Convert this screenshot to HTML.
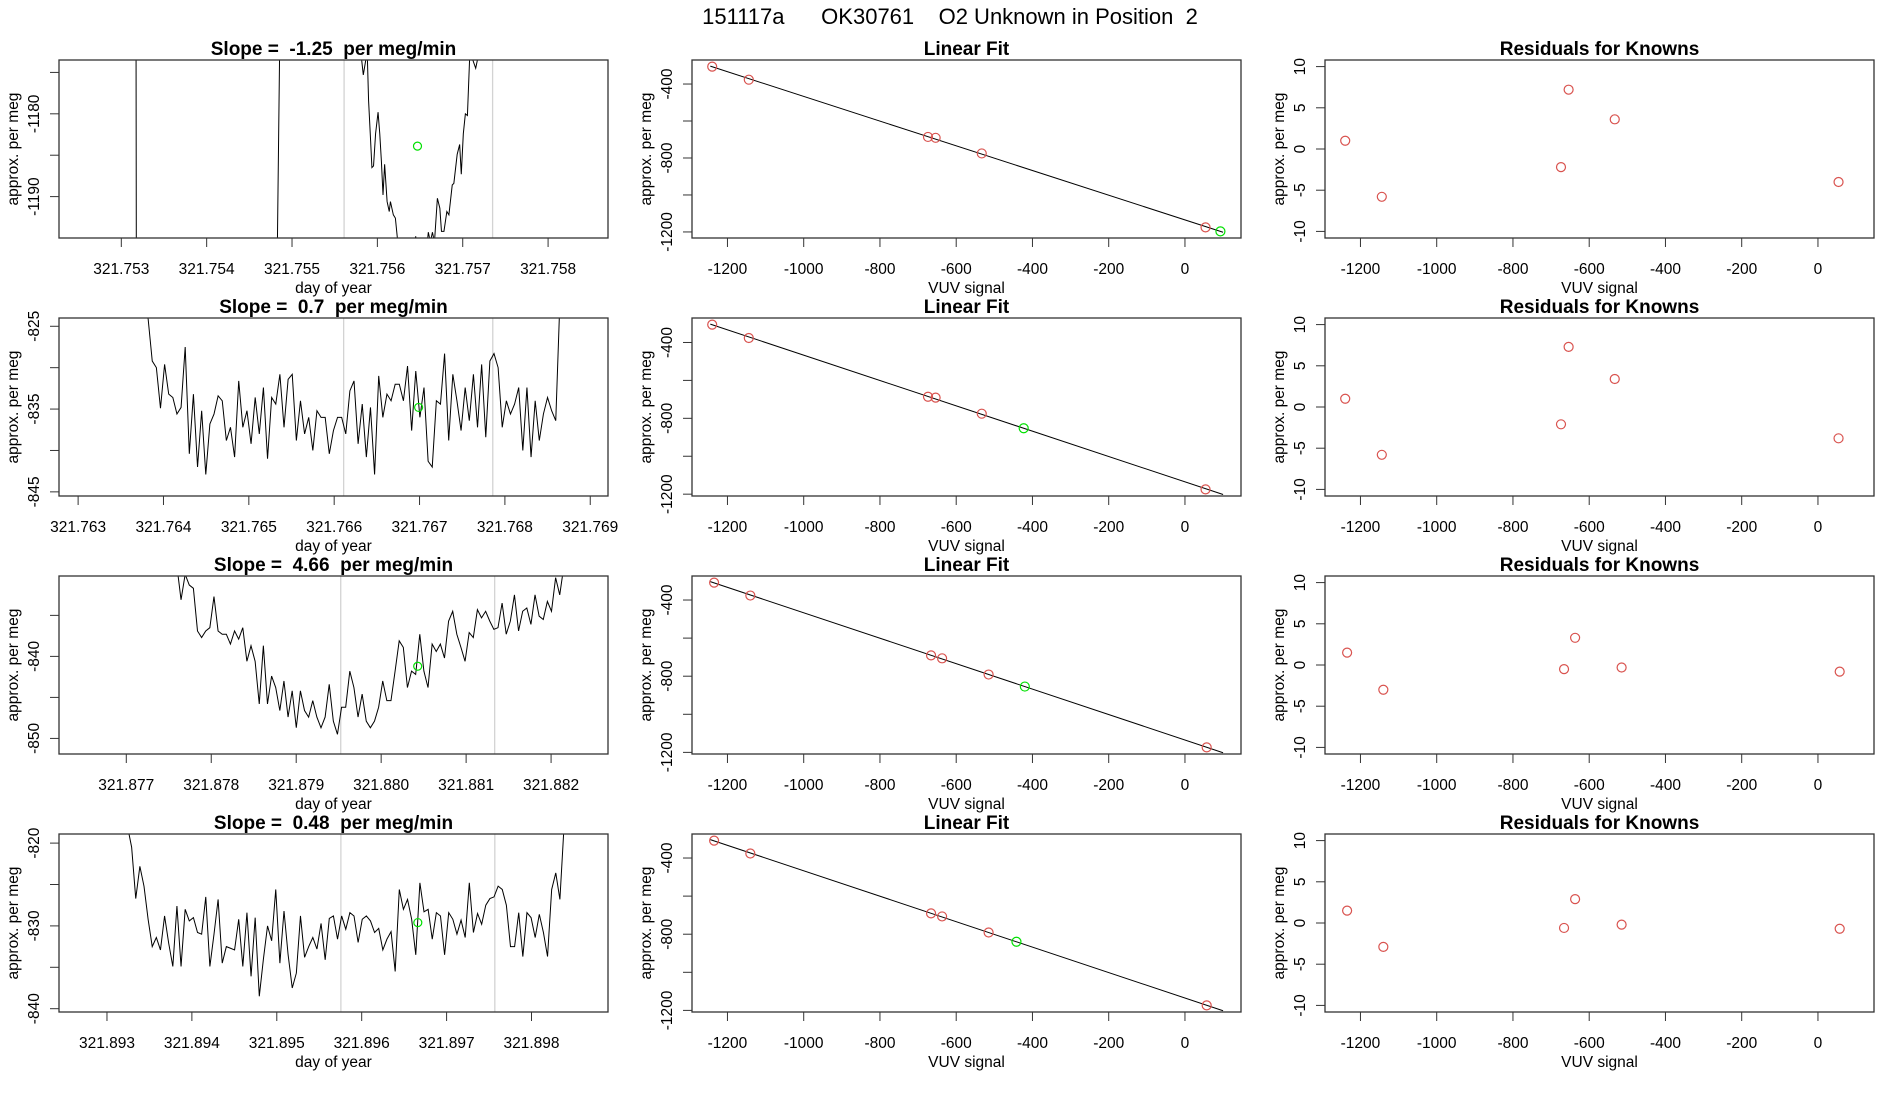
<!DOCTYPE html>
<html><head><meta charset="utf-8">
<style>
html,body{margin:0;padding:0;background:#fff;}
svg{display:block;font-family:"Liberation Sans",Arial,sans-serif;}
svg text{white-space:pre;}
</style></head>
<body>
<svg id="fig" width="1900" height="1100" viewBox="0 0 1900 1100" xmlns="http://www.w3.org/2000/svg">
<rect width="1900" height="1100" fill="#fff"/>
<text x="950" y="24" text-anchor="middle" font-size="22" fill="#000" xml:space="preserve">151117a      OK30761    O2 Unknown in Position  2</text>
</svg>
<script>
// ---------- time series data (column 1) ----------
const ts1T = [321.7520,321.75317,321.75318,321.75479,321.75488,321.755800,321.755815,321.755835,321.755864,321.755883,321.755897,321.755921,321.755936,321.755955,321.755979,321.756008,321.756028,321.756047,321.756066,321.756085,321.756114,321.756139,321.756153,321.756187,321.756211,321.756240,321.756300,321.756400,321.756449,321.756480,321.756560,321.756597,321.756621,321.756645,321.756669,321.756703,321.756732,321.756751,321.756780,321.756814,321.756838,321.756877,321.756896,321.756935,321.756964,321.756983,321.757007,321.757031,321.757055,321.757080,321.757118,321.757152,321.757176,321.757200,321.7580];
const ts1V = [-1150,-1150,-1230,-1230,-1150,-1165,-1173.4,-1175.3,-1173.5,-1173.3,-1178.4,-1183.3,-1186.5,-1186.3,-1182.4,-1179.8,-1182.4,-1185.7,-1189.8,-1186.1,-1190.6,-1191.8,-1190.6,-1192.2,-1192.6,-1195.6,-1198,-1197,-1194.8,-1197,-1198,-1194.3,-1195.5,-1194.3,-1195.5,-1190.2,-1191.4,-1194.2,-1194.2,-1191.8,-1192.2,-1188.6,-1188.4,-1184.9,-1183.7,-1187.3,-1182.4,-1180,-1180.2,-1173.5,-1173.5,-1174.5,-1173.3,-1160,-1150];

const ts2Start = 321.763772, ts2Step = 0.00004824;
const ts2V = [-823.1,-824.1,-829.2,-830,-834.9,-829.6,-833.2,-833.6,-835.6,-834.8,-827.5,-840.4,-833.2,-842,-835.2,-842.9,-836.8,-835.6,-833.4,-834,-838.8,-837.2,-840.8,-831.6,-837.2,-835.2,-839.2,-833.6,-838,-832.4,-841,-833.6,-834.4,-830.8,-837.2,-831.4,-830.8,-838.8,-834,-838,-836,-840,-835.2,-836,-836,-840.4,-837.6,-836,-836,-838,-832.8,-831.6,-839.2,-834.4,-840.8,-834.8,-842.9,-831,-836,-833.2,-834,-832,-832,-834,-829.8,-837.6,-830.4,-836,-832.4,-841.3,-842,-834,-834.4,-828.3,-838.8,-830.8,-834,-837.6,-832.4,-836.4,-830.8,-837.2,-829.6,-838.4,-829.2,-828.3,-830,-837.2,-834,-835.6,-834.4,-832.4,-840,-832.4,-840.8,-834,-838.8,-835.6,-833.6,-835.2,-836.4,-822];

const ts3Start = 321.877596, ts3Step = 0.00004845;
const ts3V = [-829,-833.1,-830,-831.3,-831.7,-836.9,-837.7,-836.9,-836.5,-832.7,-836.9,-837.3,-837.3,-838.5,-836.9,-837.9,-836.5,-840.6,-838.7,-840.6,-845.8,-838.7,-845.8,-842.4,-843.8,-846.6,-843,-847.4,-844.2,-848.7,-844.2,-846.6,-847.4,-845.4,-847.4,-848.7,-847.4,-843.4,-847.9,-849.5,-846.2,-846.2,-841.8,-843.8,-847.4,-844.6,-847.9,-848.7,-847.9,-846.2,-843,-845.4,-845.4,-841.8,-838.1,-838.9,-843.8,-841.8,-842.2,-837.3,-841.8,-843.8,-838.5,-839.4,-838.5,-840.2,-835.7,-834.5,-837.3,-838.9,-840.6,-837.1,-837.7,-834.3,-835.3,-834.5,-835.7,-836.7,-836.5,-833.5,-837.3,-835.7,-832.5,-836.9,-834.5,-834.1,-836.1,-832.5,-835.1,-835.5,-833.3,-834.5,-830.4,-832.5,-829];

const ts4Start = 321.893242, ts4Step = 0.0000485;
const ts4V = [-818,-820.5,-826.7,-822.8,-825.2,-829.2,-832.5,-831.4,-832.9,-828.8,-832.1,-834.9,-827.6,-834.9,-828,-829.4,-829,-830.8,-831,-826.5,-834.9,-831,-826.8,-834.5,-832.5,-832.7,-832.9,-829.2,-834.9,-828.4,-836.1,-829,-838.5,-834,-830,-831.8,-825.6,-834.5,-828.2,-833.5,-837.5,-835.7,-828.8,-833.8,-832.5,-831.4,-832.8,-829.7,-834.1,-829.1,-828.8,-831.6,-828.8,-830.4,-828.4,-828.8,-832,-829.2,-828.8,-829.4,-830.8,-830.3,-832.9,-831.6,-830.7,-835.5,-825.6,-828,-826.8,-829.2,-833.5,-824.8,-828.3,-828,-831.6,-828.4,-828.8,-833.5,-828.4,-829.2,-831,-829.3,-831.4,-824.8,-830.8,-828.5,-829.8,-827.5,-826.7,-826.5,-825.2,-825.6,-827.5,-832.5,-832.5,-828.4,-833.7,-828.4,-829,-831.4,-828.6,-830.8,-833.7,-825.6,-823.6,-826.8,-818];

// unknown (green) point and window markers per row
const unkT = [321.75647, 321.766989, 321.880430, 321.896661];
const unkV = [-1183.9, -834.8, -841.2, -829.6];
const winStart = [321.75561, 321.766111, 321.879524, 321.895755];
const winEnd = [321.75735, 321.767858, 321.881336, 321.897568];
const slopeLabels = ["-1.25", "0.7", "4.66", "0.48"];

// time axis settings
const tsXlim = [[321.752270,321.758702],[321.762776,321.769208],[321.876208,321.882670],[321.892435,321.898901]];
const tsYlim = [[-1195,-1173.5],[-845.5,-824],[-851.9,-830.2],[-840.4,-818.9]];
const tsXTicks = [[321.753,321.754,321.755,321.756,321.757,321.758],[321.763,321.764,321.765,321.766,321.767,321.768,321.769],[321.877,321.878,321.879,321.880,321.881,321.882],[321.893,321.894,321.895,321.896,321.897,321.898]];
const tsYTicks = [[-1175,-1180,-1185,-1190],[-825,-830,-835,-840,-845],[-835,-840,-845,-850],[-820,-825,-830,-835,-840]];
const tsYLabels = [[-1180,-1190],[-825,-835,-845],[-840,-850],[-820,-830,-840]];

// ---------- calibration data (columns 2,3) ----------
const knownX = [[-1240,-1144,-674,-654,-533,54],[-1240,-1144,-674,-654,-533,54],[-1235,-1140,-666,-637,-515,57],[-1235,-1140,-666,-637,-515,57]];
const knownY = [[-305.7,-376.6,-686.2,-690.9,-775.4,-1175.1],[-305.7,-376.6,-686.1,-690.8,-775.6,-1174.9],[-308.5,-376.5,-690.6,-706.2,-791.3,-1173.9],[-308.5,-376.4,-690.7,-706.6,-791.2,-1173.8]];
const residuals = [[1,-5.8,-2.2,7.2,3.6,-4],[1,-5.8,-2.1,7.3,3.4,-3.8],[1.5,-3,-0.5,3.3,-0.3,-0.8],[1.5,-2.9,-0.6,2.9,-0.2,-0.7]];
const unkX = [93, -423, -420, -442];
const unkY = [-1197.1, -852.4, -854.4, -839.7];
const fitSlope = [-0.668, -0.668, -0.668, -0.668];
const fitIntercept = [-1135, -1135, -1135, -1135];
const fitXRange = [-1245, 100];
const calXlim = [-1293, 147];
const calXTicks = [-1200,-1000,-800,-600,-400,-200,0];
const calYTicks = [-400,-600,-800,-1000,-1200];
const calYLabels = [-400,-800,-1200];
const resYlim = [-10.8, 10.8];
const resYTicks = [-10,-5,0,5,10];

// ---------- layout ----------
const NS = "http://www.w3.org/2000/svg";
const svg = document.getElementById('fig');
const colLeft = [59, 692, 1325], boxW = 549;
const rowTop = [60, 318, 576, 834], boxH = 178;
const RED = "#d9534f", GREEN = "#00e000";

function mk(tag, attrs, parent) {
  const e = document.createElementNS(NS, tag);
  for (const k in attrs) e.setAttribute(k, attrs[k]);
  (parent || svg).appendChild(e);
  return e;
}
function txt(s, attrs, parent) { const e = mk('text', attrs, parent); e.textContent = s; return e; }
function scale(d0, d1, r0, r1) { return v => r0 + (v - d0) / (d1 - d0) * (r1 - r0); }

function frame(g, L, T, xs, ys, xticks, xlabels, yticks, ylabels, title, xlab) {
  const B = T + boxH;
  const t = txt(title, {x: L + boxW/2, y: T - 5, 'text-anchor':'middle', 'font-size':19, 'font-weight':'bold'}, g);
  
  
  const box = mk('rect', {x:L, y:T, width:boxW, height:boxH, fill:'none', stroke:'#333', 'stroke-width':1.3}, g);
  
  
  const xa = mk('g', {}, g);
  
  
  xticks.forEach((v, i) => {
    const px = xs(v);
    mk('line', {x1:px, x2:px, y1:B, y2:B+9, stroke:'#333', 'stroke-width':1}, xa);
    const lb = txt(xlabels[i], {x:px, y:B+36, 'text-anchor':'middle', 'font-size':15.5}, xa);
    
    
  });
  const xl = txt(xlab, {x:L + boxW/2, y:B+55, 'text-anchor':'middle', 'font-size':15.5}, g);
  
  
  const ya = mk('g', {}, g);
  
  
  yticks.forEach(v => {
    const py = ys(v);
    mk('line', {x1:L-9, x2:L, y1:py, y2:py, stroke:'#333', 'stroke-width':1}, ya);
  });
  ylabels.forEach(v => {
    const py = ys(v);
    const lb = txt(String(v), {x:0, y:0, 'text-anchor':'middle', 'font-size':15.5, transform:`translate(${L-20},${py}) rotate(-90)`}, ya);
    
    
  });
  const yl = txt('approx. per meg', {x:0, y:0, 'text-anchor':'middle', 'font-size':15.5, transform:`translate(${L-41},${T+boxH/2}) rotate(-90)`}, g);
  
  
}

function clipFor(id, L, T) {
  const cp = mk('clipPath', {id: id});
  mk('rect', {x:L, y:T, width:boxW, height:boxH}, cp);
}

for (let r = 0; r < 4; r++) {
  const T = rowTop[r];
  // ----- column 1: time series -----
  {
    const L = colLeft[0];
    const g = mk('g', {});
    
    
    const xs = scale(tsXlim[r][0], tsXlim[r][1], L, L + boxW);
    const ys = scale(tsYlim[r][0], tsYlim[r][1], T + boxH, T);
    clipFor('c1r' + r, L, T);
    const inner = mk('g', {'clip-path': `url(#c1r${r})`}, g);
    [winStart[r], winEnd[r]].forEach(v => {
      const w = mk('line', {x1:xs(v), x2:xs(v), y1:T, y2:T+boxH, stroke:'#d3d3d3', 'stroke-width':1.3}, inner);
      
      
    });
    let pts;
    if (r === 0) pts = ts1T.map((t, i) => [t, ts1V[i]]);
    else {
      const st = [0, ts2Start, ts3Start, ts4Start][r], sp = [0, ts2Step, ts3Step, ts4Step][r];
      const vals = [null, ts2V, ts3V, ts4V][r];
      pts = vals.map((v, i) => [st + sp * i, v]);
    }
    const line = mk('polyline', {points: pts.map(p => xs(p[0]).toFixed(2) + ',' + ys(p[1]).toFixed(2)).join(' '), fill:'none', stroke:'#000', 'stroke-width':1}, inner);
    
    
    const c = mk('circle', {cx:xs(unkT[r]), cy:ys(unkV[r]), r:4, fill:'none', stroke:GREEN, 'stroke-width':1.2}, g);
    
    
    frame(g, L, T, xs, ys, tsXTicks[r], tsXTicks[r].map(v => v.toFixed(3)), tsYTicks[r], tsYLabels[r], `Slope =  ${slopeLabels[r]}  per meg/min`, 'day of year');
  }
  // ----- column 2: linear fit -----
  {
    const L = colLeft[1];
    const g = mk('g', {});
    
    
    const allY = knownY[r].concat([unkY[r]]);
    const ymin = Math.min(...allY), ymax = Math.max(...allY), pad = (ymax - ymin) * 0.04;
    const xs = scale(calXlim[0], calXlim[1], L, L + boxW);
    const ys = scale(ymin - pad, ymax + pad, T + boxH, T);
    clipFor('c2r' + r, L, T);
    const inner = mk('g', {'clip-path': `url(#c2r${r})`}, g);
    const fl = mk('line', {x1:xs(fitXRange[0]), y1:ys(fitSlope[r]*fitXRange[0]+fitIntercept[r]), x2:xs(fitXRange[1]), y2:ys(fitSlope[r]*fitXRange[1]+fitIntercept[r]), stroke:'#000', 'stroke-width':1}, inner);
    
    
    knownX[r].forEach((x, i) => {
      const c = mk('circle', {cx:xs(x), cy:ys(knownY[r][i]), r:4.5, fill:'none', stroke:RED, 'stroke-width':1.2}, g);
      
      
    });
    const u = mk('circle', {cx:xs(unkX[r]), cy:ys(unkY[r]), r:4.5, fill:'none', stroke:GREEN, 'stroke-width':1.2}, g);
    
    
    frame(g, L, T, xs, ys, calXTicks, calXTicks.map(String), calYTicks, calYLabels, 'Linear Fit', 'VUV signal');
  }
  // ----- column 3: residuals -----
  {
    const L = colLeft[2];
    const g = mk('g', {});
    
    
    const xs = scale(calXlim[0], calXlim[1], L, L + boxW);
    const ys = scale(resYlim[0], resYlim[1], T + boxH, T);
    knownX[r].forEach((x, i) => {
      const c = mk('circle', {cx:xs(x), cy:ys(residuals[r][i]), r:4.5, fill:'none', stroke:RED, 'stroke-width':1.2}, g);
      
      
    });
    frame(g, L, T, xs, ys, calXTicks, calXTicks.map(String), resYTicks, resYTicks, 'Residuals for Knowns', 'VUV signal');
  }
}
</script>
</body></html>
